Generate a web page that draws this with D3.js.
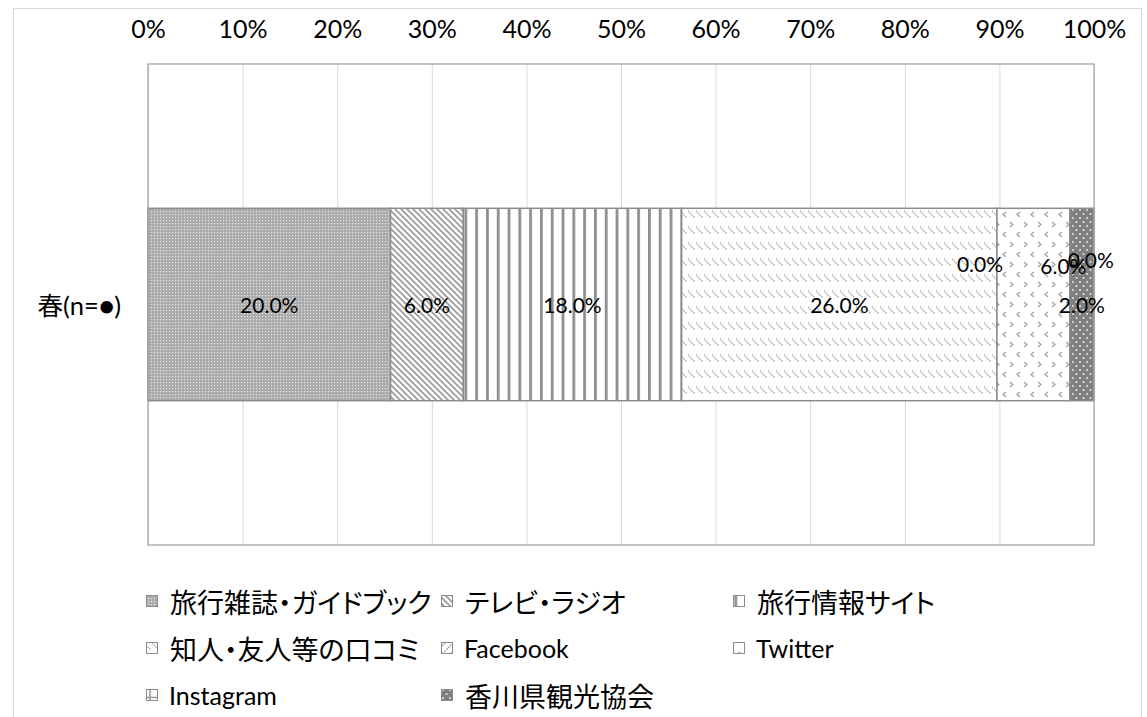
<!DOCTYPE html>
<html><head><meta charset="utf-8">
<script src="https://cdn.jsdelivr.net/npm/d3@7"></script>
<style>html,body{margin:0;padding:0;background:#fff;} svg{display:block}</style>
</head><body>
<svg id="chart" width="1147" height="717"></svg>
<script>
// ---- data ----
const categories = ["春(n=●)"];
const seriesNames = ["旅行雑誌・ガイドブック","テレビ・ラジオ","旅行情報サイト","知人・友人等の口コミ","Facebook","Twitter","Instagram","香川県観光協会"];
const seriesValues = [20.0, 6.0, 18.0, 26.0, 0.0, 6.0, 0.0, 2.0];
const xTickValues = [0,0.1,0.2,0.3,0.4,0.5,0.6,0.7,0.8,0.9,1.0];
const xTickLabels = ["0%","10%","20%","30%","40%","50%","60%","70%","80%","90%","100%"];

// ---- layout ----
const W = 1147, H = 717;
const plot = {left:148, right:1094, top:64, bottom:545};
const labelNudge = [[0,0],[0,0],[0,0],[0,0],[-17,-41],[30,-39],[21,-45],[0,0]];
const legendCols = [146, 441, 733];
const legendRows = [601, 648, 695];
const latin = "Lato, 'Noto Sans CJK JP', sans-serif";
const cjk = "'Noto Sans CJK JP', sans-serif";

const svg = d3.select("#chart");
svg.append("rect").attr("width",W).attr("height",H).attr("fill","#fff");
const defs = svg.append("defs");
function pattern(id, w, h, bg, draw){
  const p = defs.append("pattern").attr("id", id).attr("patternUnits","userSpaceOnUse")
    .attr("width", w).attr("height", h);
  p.append("rect").attr("width", w).attr("height", h).attr("fill", bg);
  draw(p);
}
const pc = "#999";
pattern("p0", 3, 3, "#ababab", p => p.append("rect").attr("x",1).attr("y",1).attr("width",1.2).attr("height",1.2).attr("fill","#e4e4e4"));
pattern("p1", 6, 6, "#fff", p => p.append("path").attr("d","M0,0L6,6M-1,5L1,7M5,-1L7,1").attr("stroke",pc).attr("stroke-width",1.6));
pattern("p2", 10.8, 10, "#fff", p => p.append("rect").attr("x",0).attr("width",2.8).attr("height",10).attr("fill","#8f8f8f"));
pattern("p3", 8, 16, "#fff", p => p.append("path").attr("d","M0,3L7,10").attr("stroke","#a0a0a0").attr("stroke-width",1.3).attr("stroke-dasharray","1.4,1.1"));
pattern("p4", 8, 8, "#fff", p => p.append("path").attr("d","M0,8L8,0").attr("stroke",pc).attr("stroke-width",1.3).attr("stroke-dasharray","2,1"));
pattern("p5", 14, 20, "#fff", p => {
  p.append("path").attr("d","M2,2L5,4.5L2,7").attr("fill","none").attr("stroke","#a0a0a0").attr("stroke-width",1.2);
  p.append("path").attr("d","M12,12L9,14.5L12,17").attr("fill","none").attr("stroke","#a0a0a0").attr("stroke-width",1.2);
});
pattern("p6", 12, 12, "#fff", p => p.append("path").attr("d","M0,1.5H12M6,0V12").attr("stroke",pc).attr("stroke-width",1.6));
pattern("p7", 7, 8, "#7f7f7f", p => {
  p.append("circle").attr("cx",2).attr("cy",2).attr("r",1).attr("fill","#e8e8e8");
  p.append("circle").attr("cx",5.5).attr("cy",6).attr("r",1).attr("fill","#e8e8e8");
});
const fills = ["url(#p0)","url(#p1)","url(#p2)","url(#p3)","url(#p4)","url(#p5)","url(#p6)","url(#p7)"];

// outer chart border
svg.append("rect").attr("x",13.5).attr("y",8.5).attr("width",1128).attr("height",740)
  .attr("fill","none").attr("stroke","#d9d9d9").attr("stroke-width",1);

// scales
const x = d3.scaleLinear().domain([0,1]).range([plot.left, plot.right]);
const y = d3.scaleBand().domain(categories).range([plot.top, plot.bottom]).paddingInner(0.6).paddingOuter(0.3);

// gridlines + top tick labels
const axis = d3.axisTop(x).tickValues(xTickValues).tickFormat((d,i)=>xTickLabels[i])
  .tickSizeInner(-(plot.bottom-plot.top)).tickSizeOuter(0).tickPadding(26);
const gx = svg.append("g").attr("transform",`translate(0,${plot.top})`).call(axis);
gx.select(".domain").remove();
gx.selectAll(".tick line").attr("stroke","#d9d9d9").attr("stroke-width",1);
gx.selectAll(".tick text").attr("font-family",latin).attr("font-size",25).attr("fill","#000");

// bars
const rows = categories.map(c => { const o = {cat:c}; seriesValues.forEach((v,i)=>o[i]=v); return o; });
const stack = d3.stack().keys(seriesNames.map((_,i)=>i)).offset(d3.stackOffsetExpand)(rows);
const gb = svg.append("g");
stack.forEach((layer, si) => {
  layer.forEach(d => {
    gb.append("rect").attr("x", x(d[0])).attr("y", y(d.data.cat))
      .attr("width", Math.max(0, x(d[1]) - x(d[0]))).attr("height", y.bandwidth())
      .attr("fill", fills[si]).attr("stroke", seriesValues[si] > 0 ? "#8c8c8c" : "none").attr("stroke-width", 1.5);
  });
});

// plot border
svg.append("rect").attr("x",plot.left).attr("y",plot.top).attr("width",plot.right-plot.left).attr("height",plot.bottom-plot.top)
  .attr("fill","none").attr("stroke","#a6a6a6").attr("stroke-width",1.3);

// data labels
const gl = svg.append("g");
stack.forEach((layer, si) => {
  layer.forEach(d => {
    gl.append("text").attr("x", x((d[0]+d[1])/2) + labelNudge[si][0])
      .attr("y", y(d.data.cat) + y.bandwidth()/2 + labelNudge[si][1])
      .attr("text-anchor","middle").attr("dominant-baseline","central")
      .attr("font-family",latin).attr("font-size",21).attr("fill","#000")
      .text(d.data[si].toFixed(1) + "%");
  });
});

// category label
svg.append("g").selectAll("text").data(categories).join("text")
  .attr("x", plot.left - 27).attr("y", d => y(d) + y.bandwidth()/2)
  .attr("text-anchor","end").attr("dominant-baseline","central")
  .attr("font-family",latin).attr("font-size",25.5).attr("fill","#000").text(d => d);

// legend
const lg = svg.append("g");
seriesNames.forEach((name, i) => {
  const cx = legendCols[i % 3], cy = legendRows[Math.floor(i / 3)];
  lg.append("rect").attr("x", cx + 0.5).attr("y", cy - 5.5).attr("width", 11).attr("height", 11)
    .attr("fill", fills[i]).attr("stroke", "#8c8c8c").attr("stroke-width", 1);
  const isCjk = /[^\x00-\x7F]/.test(name);
  lg.append("text").attr("x", cx + (isCjk ? 24 : 23)).attr("y", cy)
    .attr("dominant-baseline","central")
    .attr("font-family", isCjk ? cjk : latin).attr("font-size", isCjk ? 27 : 25).attr("fill","#000")
    .style("font-feature-settings", isCjk ? "'palt'" : null)
    .text(name);
});
</script>
</body></html>
